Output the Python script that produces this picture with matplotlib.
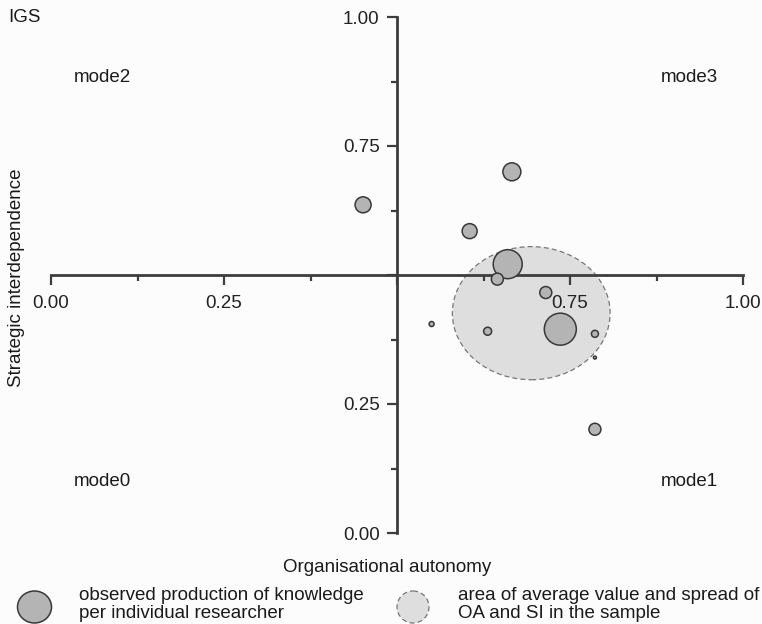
import matplotlib
matplotlib.use("Agg")
import matplotlib.pyplot as plt
from matplotlib.patches import Ellipse
import numpy as np

plt.rcParams['font.family'] = ['Liberation Sans', 'DejaVu Sans']

# ---- data ----
org_autonomy = [0.451, 0.666, 0.605, 0.660, 0.645, 0.715, 0.550, 0.631, 0.736, 0.786, 0.786, 0.786]
strat_interdep = [0.636, 0.700, 0.585, 0.521, 0.492, 0.466, 0.405, 0.391, 0.395, 0.386, 0.340, 0.201]
knowledge = [8.0, 9.0, 7.5, 14.5, 6.0, 6.0, 2.5, 4.0, 16.0, 3.5, 1.5, 6.0]  # relative bubble radius
area_center = (0.694, 0.426)
area_spread = (0.228, 0.258)
x_ticks = [0.0, 0.25, 0.5, 0.75, 1.0]
x_ticklabels = ['0.00', '0.25', '', '0.75', '1.00']
y_ticks = [0.0, 0.25, 0.5, 0.75, 1.0]
y_ticklabels = ['0.00', '0.25', '', '0.75', '1.00']
minor_ticks = [0.125, 0.375, 0.625, 0.875]
mode_labels = ['mode0', 'mode1', 'mode2', 'mode3']

W, H = 762, 624
fig = plt.figure(figsize=(W / 100, H / 100), dpi=100, facecolor='#fcfcfc')

def fx(px):
    return px / W

def fy(py):
    return 1 - py / H

ax = fig.add_axes([fx(51), fy(533), 692 / W, 516 / H])
ax.set_facecolor('none')
ax.set_xlim(0, 1)
ax.set_ylim(0, 1)

axis_col = '#3d3d3d'
for s in ['top', 'right']:
    ax.spines[s].set_visible(False)
ax.spines['left'].set_position(('data', 0.5))
ax.spines['bottom'].set_position(('data', 0.5))
for s in ['left', 'bottom']:
    ax.spines[s].set_color(axis_col)
    ax.spines[s].set_linewidth(2.0)
    ax.spines[s].set_zorder(2)

ax.set_xticks(x_ticks)
ax.set_xticklabels(x_ticklabels)
ax.set_yticks(y_ticks)
ax.set_yticklabels(y_ticklabels)
ax.set_xticks(minor_ticks, minor=True)
ax.set_yticks(minor_ticks, minor=True)
ax.tick_params(which='major', direction='out', length=7.5, width=1.6, color=axis_col,
               labelsize=13.5, labelcolor='#222222', pad=5)
ax.tick_params(axis='x', which='major', pad=7)
ax.tick_params(which='minor', direction='out', length=4.5, width=1.6, color=axis_col)

# area ellipse
ell = Ellipse(area_center, area_spread[0], area_spread[1], facecolor='#dedede',
              edgecolor='#777777', linestyle=(0, (4, 2.5)), linewidth=0.9, zorder=1)
ax.add_patch(ell)

# bubbles
sizes = [(2 * r * 0.72) ** 2 for r in knowledge]
ax.scatter(org_autonomy, strat_interdep, s=sizes, facecolor='#b4b4b4',
           edgecolor='#383838', linewidth=1.1, zorder=3, clip_on=False)

# texts
tcol = '#1a1a1a'
fig.text(fx(8), fy(18), 'IGS', fontsize=13.5, color=tcol, ha='left', va='center')
fig.text(fx(74), fy(77), mode_labels[2], fontsize=13.5, color=tcol, ha='left', va='center')
fig.text(fx(661), fy(77), mode_labels[3], fontsize=13.5, color=tcol, ha='left', va='center')
fig.text(fx(74), fy(481), mode_labels[0], fontsize=13.5, color=tcol, ha='left', va='center')
fig.text(fx(661), fy(481), mode_labels[1], fontsize=13.5, color=tcol, ha='left', va='center')
fig.text(fx(387), fy(567), 'Organisational autonomy', fontsize=13.5, color=tcol,
         ha='center', va='center')
fig.text(fx(17), fy(278), 'Strategic interdependence', fontsize=13.5, color=tcol,
         ha='center', va='center', rotation=90)

# legend
lax = fig.add_axes([0, 0, 1, 1])
lax.set_xlim(0, W)
lax.set_ylim(H, 0)
lax.axis('off')
lax.add_patch(Ellipse((34.5, 607), 34, 32, facecolor='#b4b4b4', edgecolor='#383838', linewidth=1.1))
lax.add_patch(Ellipse((413, 607), 32, 32, facecolor='#dedede', edgecolor='#777777',
                      linestyle=(0, (4, 2.5)), linewidth=0.9))
fig.text(fx(79), fy(604.5), 'observed production of knowledge\nper individual researcher',
         fontsize=13.5, color=tcol, ha='left', va='center', linespacing=1.0)
fig.text(fx(458), fy(604.5), 'area of average value and spread of\nOA and SI in the sample',
         fontsize=13.5, color=tcol, ha='left', va='center', linespacing=1.0)

fig.savefig('out.png', dpi=100, facecolor=fig.get_facecolor())
